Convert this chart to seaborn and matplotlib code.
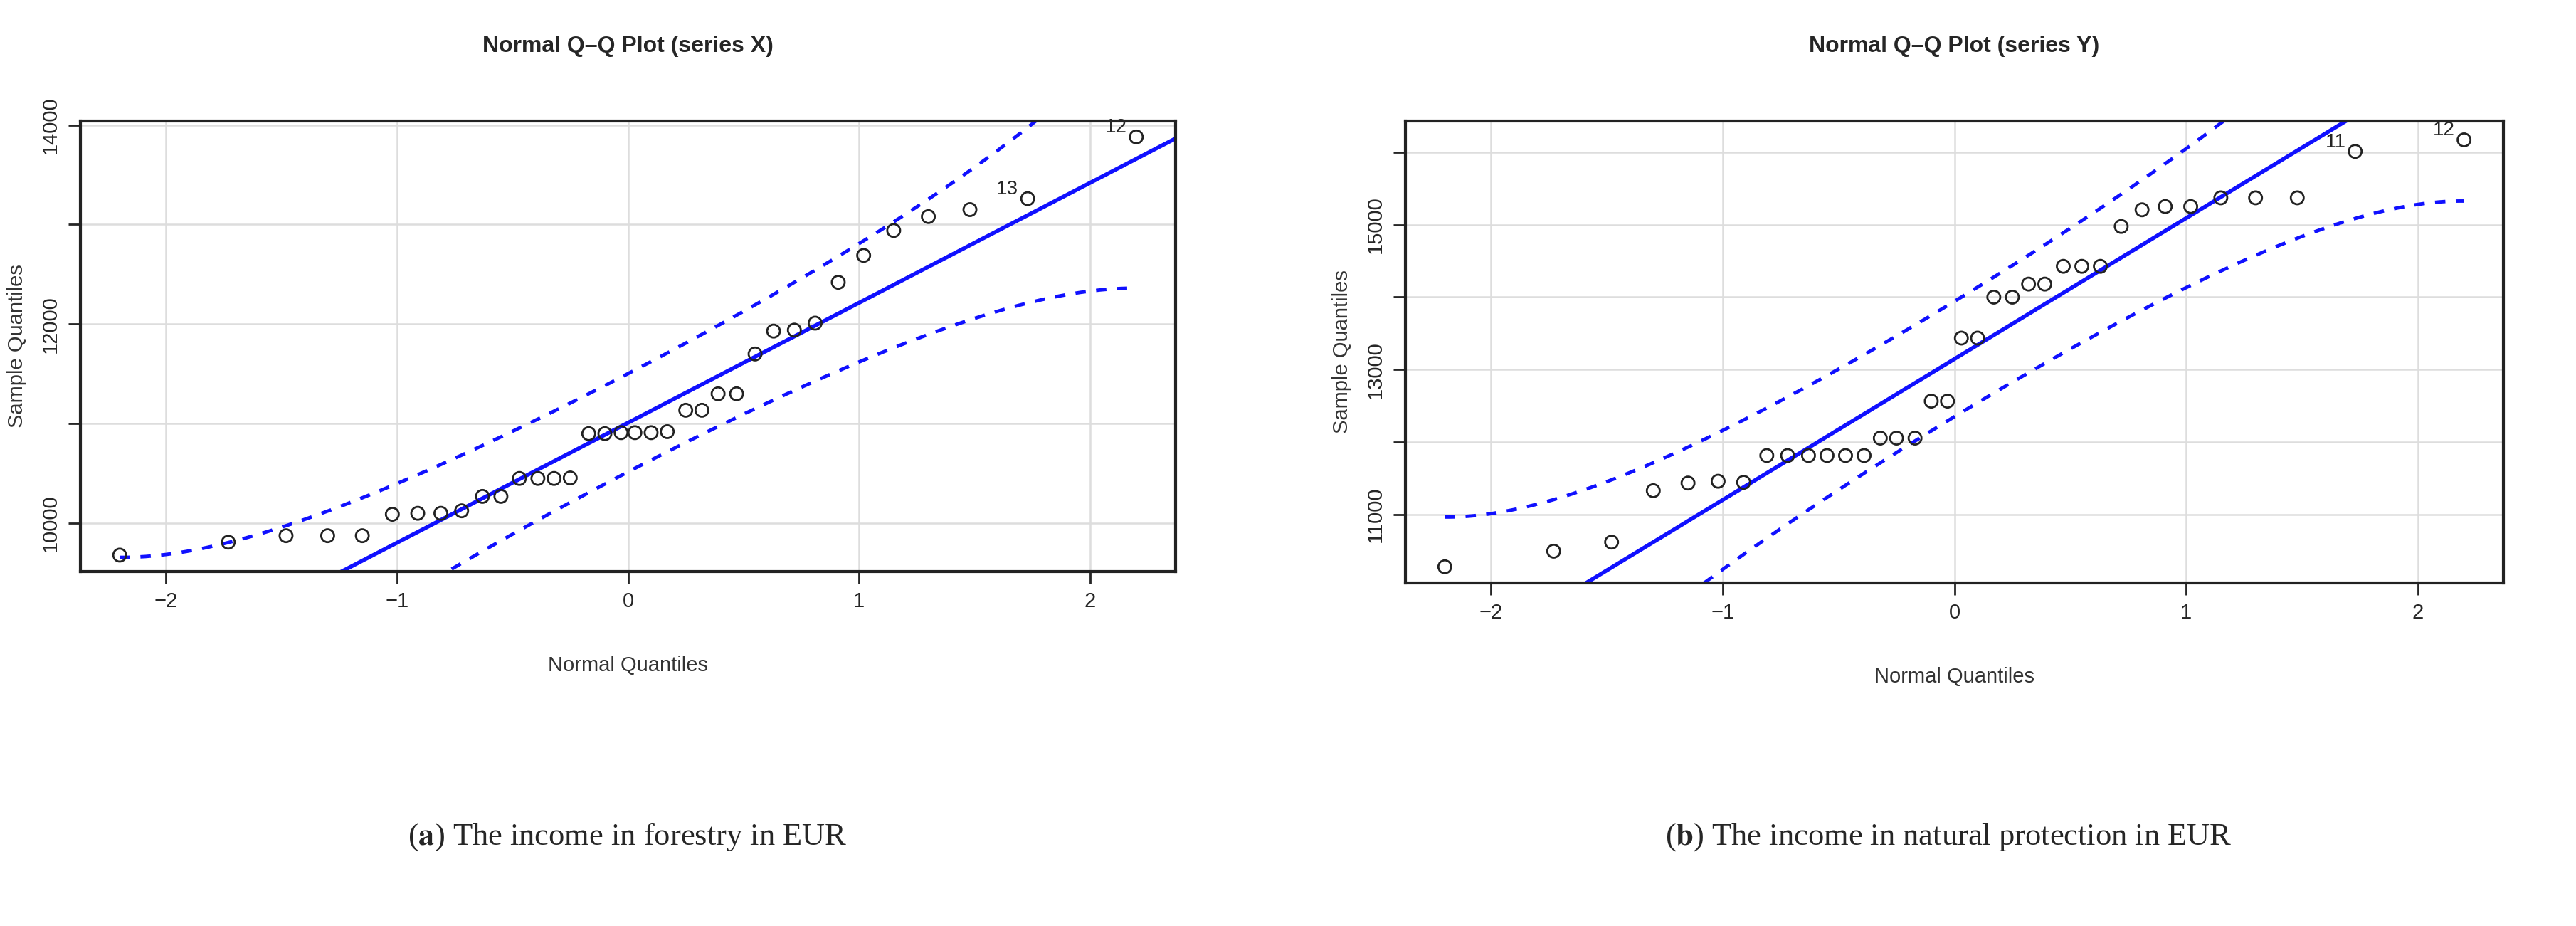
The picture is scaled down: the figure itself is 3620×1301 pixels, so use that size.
import numpy as np
import pandas as pd
import matplotlib
matplotlib.use('Agg')
import matplotlib.pyplot as plt
import seaborn as sns
from math import erf

# normal quantiles (n = 36)
theo_q = [-2.20, -1.73, -1.48, -1.30, -1.15, -1.02, -0.91, -0.81, -0.72, -0.63,
          -0.55, -0.47, -0.39, -0.32, -0.25, -0.17, -0.10, -0.03,
          0.03, 0.10, 0.17, 0.25, 0.32, 0.39, 0.47, 0.55, 0.63, 0.72,
          0.81, 0.91, 1.02, 1.15, 1.30, 1.48, 1.73, 2.20]

forestry = [9680, 9810, 9875, 9875, 9875, 10090, 10100, 10100, 10125, 10270,
            10270, 10450, 10450, 10450, 10455, 10900, 10900, 10910,
            10910, 10910, 10920, 11135, 11135, 11300, 11300, 11700, 11930, 11940,
            12010, 12420, 12690, 12940, 13080, 13150, 13260, 13880]

protection = [10280, 10495, 10620, 11330, 11435, 11460, 11445, 11815, 11815, 11815,
              11815, 11815, 11815, 12055, 12055, 12055, 12565, 12565,
              13435, 13435, 14000, 14000, 14180, 14180, 14425, 14425, 14425, 14975,
              15205, 15250, 15250, 15370, 15370, 15370, 16010, 16170]

# reference line (intercept, slope) and point labels
line_x = (11009, 1205)
line_y = (13146, 1943)
labels_x = {35: '12', 34: '13'}
labels_y = {35: '12', 34: '11'}

sns.set_theme(style='white')
plt.rcParams['font.family'] = ['Liberation Sans', 'DejaVu Sans']
plt.rcParams['mathtext.fontset'] = 'stix'

fig = plt.figure(figsize=(36.2, 13.01), dpi=100)
ax1 = fig.add_axes([113 / 3620, 1 - 803 / 1301, 1539 / 3620, 633 / 1301])
ax2 = fig.add_axes([1975 / 3620, 1 - 819 / 1301, 1543 / 3620, 649 / 1301])


def dnorm(z):
    return np.exp(-z ** 2 / 2) / np.sqrt(2 * np.pi)


def panel(ax, y, fit, lab, title, ylim, yticks, yticklabels):
    n = len(y)
    df = pd.DataFrame({'z': theo_q, 'y': y})
    b0, b1 = fit
    # envelope (pointwise 95% band, as in car::qqPlot)
    zz = np.linspace(theo_q[0], theo_q[-1], 200)
    p = np.array([0.5 * (1 + erf(v / np.sqrt(2))) for v in zz])
    se = b1 / dnorm(zz) * np.sqrt(p * (1 - p) / n)
    fitv = b0 + b1 * zz
    for sgn in (1, -1):
        sns.lineplot(x=zz, y=fitv + sgn * 1.96 * se, ax=ax, color='#1010ff',
                     lw=3.5, linestyle=(0, (3, 3)), zorder=2)
    xl = np.array([-2.37, 2.37])
    sns.lineplot(x=xl, y=b0 + b1 * xl, ax=ax, color='#1010ff', lw=4, zorder=2)
    sns.scatterplot(data=df, x='z', y='y', ax=ax, s=170, marker='o',
                    facecolor='none', edgecolor='#222222', linewidth=2, zorder=3)
    for i, t in lab.items():
        ax.text(theo_q[i] - 0.04, y[i], t, ha='right', va='bottom', fontsize=20)
    ax.set_xlim(-2.37, 2.37)
    ax.set_ylim(*ylim)
    ax.set_xticks([-2, -1, 0, 1, 2])
    ax.set_xticklabels(['\u22122', '\u22121', '0', '1', '2'], fontsize=21)
    ax.set_yticks(yticks)
    ax.set_yticklabels(yticklabels, fontsize=21, rotation=90, va='center')
    ax.grid(True, color='#dddddd', lw=1.8)
    for s in ax.spines.values():
        s.set_color('#222222')
        s.set_linewidth(3)
    ax.tick_params(axis='both', length=12, width=2, direction='out',
                   bottom=True, left=True, pad=8)
    ax.set_xlabel('Normal Quantiles', fontsize=21, labelpad=45, color='#333333')
    ax.set_ylabel('Sample Quantiles', fontsize=21, labelpad=14, color='#333333')
    ax.set_title(title, fontsize=23, fontweight='bold', pad=70)


panel(ax1, forestry, line_x, labels_x, 'Normal Q\u2013Q Plot (series X)',
      (9515, 14040), [10000, 11000, 12000, 13000, 14000],
      ['10000', '', '12000', '', '14000'])
panel(ax2, protection, line_y, labels_y, 'Normal Q\u2013Q Plot (series Y)',
      (10057, 16430), [11000, 12000, 13000, 14000, 15000, 16000],
      ['11000', '', '13000', '', '15000', ''])

cap = dict(fontsize=32, family=['Liberation Serif', 'DejaVu Serif'], ha='center', va='center')
fig.text(882 / 3620, 1 - 1176 / 1301, r'($\mathbf{a}$) The income in forestry in EUR', **cap)
fig.text(2738 / 3620, 1 - 1176 / 1301, r'($\mathbf{b}$) The income in natural protection in EUR', **cap)

fig.savefig('out.png', dpi=100, facecolor='white')
